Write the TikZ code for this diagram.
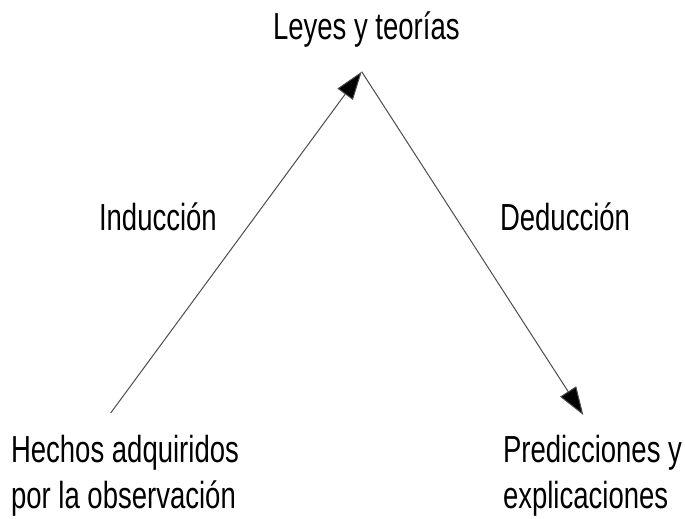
\documentclass[tikz,border=0pt]{standalone}
\usepackage{fontspec}
\setmainfont{Liberation Sans}[FakeStretch=0.73]
\usetikzlibrary{arrows.meta}
\tikzset{
  lbl/.style={inner sep=0pt, outer sep=0pt, font=\fontsize{37.7}{46}\selectfont, text=black},
  conn/.style={line width=1pt, draw=black!70, -{Triangle[length=28pt, width=19pt, fill=black]}}
}
\begin{document}
\begin{tikzpicture}[x=1pt, y=-1pt]
  \useasboundingbox (0,0) rectangle (685,519);
  \node[lbl, anchor=base west] (leyes) at (273,40) {Leyes y teorías};
  \node[lbl, anchor=base west] (ind) at (99,230) {Inducción};
  \node[lbl, anchor=base west] (ded) at (500,230) {Deducción};
  \node[lbl, anchor=base west, align=left] (hechos) at (11,508) {Hechos adquiridos\\por la observación};
  \node[lbl, anchor=base west, align=left] (pred) at (503,508) {Predicciones y\\explicaciones};
  \coordinate (apex) at (361.7,71.7);
  \coordinate (hstart) at (110.7,413);
  \coordinate (pend) at (583.3,415);
  \draw[conn] (hstart) -- (apex);
  \draw[conn] (apex) -- (pend);
\end{tikzpicture}
\end{document}
